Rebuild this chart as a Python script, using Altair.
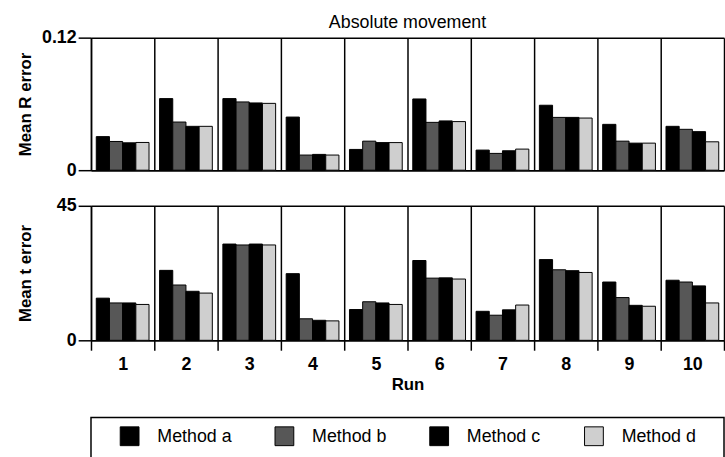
import altair as alt
import pandas as pd

runs = [1, 2, 3, 4, 5, 6, 7, 8, 9, 10]
methods = ["Method a", "Method b", "Method c", "Method d"]

# Mean R error per run, one list per method
r_error_a = [0.0304, 0.0648, 0.0648, 0.0481, 0.0188, 0.0645, 0.0182, 0.0588, 0.0415, 0.0397]
r_error_b = [0.0260, 0.0436, 0.0618, 0.0137, 0.0263, 0.0433, 0.0152, 0.0478, 0.0263, 0.0370]
r_error_c = [0.0248, 0.0397, 0.0609, 0.0143, 0.0250, 0.0446, 0.0176, 0.0478, 0.0245, 0.0349]
r_error_d = [0.0251, 0.0397, 0.0605, 0.0137, 0.0250, 0.0440, 0.0191, 0.0472, 0.0245, 0.0257]

# Mean t error per run, one list per method
t_error_a = [14.1, 23.4, 32.2, 22.3, 10.3, 26.7, 9.7, 27.0, 19.5, 20.1]
t_error_b = [12.5, 18.5, 31.9, 7.2, 12.9, 20.8, 8.4, 23.6, 14.3, 19.5]
t_error_c = [12.5, 16.4, 32.2, 6.7, 12.5, 20.9, 10.2, 23.3, 11.7, 18.2]
t_error_d = [12.0, 15.8, 31.9, 6.5, 12.0, 20.5, 11.8, 22.7, 11.4, 12.5]

method_colors = ["#000000", "#575757", "#000000", "#cfcfcf"]


def long_table(series):
    rows = []
    for m, vals in zip(methods, series):
        for r, v in zip(runs, vals):
            rows.append({"run": r, "method": m, "value": v})
    return pd.DataFrame(rows)


r_df = long_table([r_error_a, r_error_b, r_error_c, r_error_d])
t_df = long_table([t_error_a, t_error_b, t_error_c, t_error_d])
legend_df = pd.DataFrame({"method": methods})

FONT = "Liberation Sans"
color_scale = alt.Scale(domain=methods, range=method_colors)


def panel(df, ytitle, ymax, bottom, height):
    if bottom:
        x_axis = alt.Axis(
            tickBand="extent", grid=True, gridColor="black", gridOpacity=1, gridWidth=1.5,
            domainColor="black", domainWidth=1.5, ticks=True, tickSize=10, tickColor="black",
            tickWidth=1.5, labelAngle=0, labelFontSize=18, labelFontWeight="bold",
            labelColor="black", labelPadding=6, labelFont=FONT,
            title="Run", titleFontSize=17, titleFontWeight="bold", titleColor="black",
            titlePadding=3, titleFont=FONT,
        )
    else:
        x_axis = alt.Axis(
            tickBand="extent", grid=True, gridColor="black", gridOpacity=1, gridWidth=1.5,
            domainColor="black", domainWidth=1.5, ticks=False, labels=False, title=None,
        )
    y_axis = alt.Axis(
        values=[0, ymax], format=".2~f", grid=True, gridColor="black", gridOpacity=1,
        gridWidth=1.5, domainColor="black", domainWidth=1.5, tickSize=13, tickColor="black",
        tickWidth=1.5, labelFontSize=18, labelFontWeight="bold", labelColor="black",
        labelPadding=2, labelFont=FONT, title=ytitle, titleFontSize=17,
        titleFontWeight="bold", titleColor="black", titleFont=FONT, titleX=-57,
    )
    return alt.Chart(df).mark_bar(stroke="black", strokeWidth=1, opacity=1).encode(
        x=alt.X("run:O", scale=alt.Scale(domain=runs, paddingInner=0, paddingOuter=0), axis=x_axis),
        xOffset=alt.XOffset("method:N", scale=alt.Scale(domain=methods, paddingInner=0, paddingOuter=0.4)),
        y=alt.Y("value:Q", scale=alt.Scale(domain=[0, ymax], nice=False, zero=True), axis=y_axis),
        color=alt.Color("method:N", scale=color_scale, legend=None),
    ).properties(width=640, height=height)


top = panel(r_df, "Mean R error", 0.12, False, 134).properties(
    title=alt.TitleParams("Absolute movement", fontSize=18, fontWeight="normal", font=FONT,
                          color="black", anchor="middle", frame="group", offset=-3.5)
)
bottom = panel(t_df, "Mean t error", 45, True, 136)

# Legend panel: one square and one label per method, placed by a point scale
legend_x = alt.X(
    "method:N", scale=alt.Scale(type="point", domain=methods, padding=0.545, align=0.229), axis=None
)
legend_squares = alt.Chart(legend_df).mark_square(
    size=361, stroke="black", strokeWidth=1, opacity=1, filled=True
).encode(
    x=legend_x, y=alt.value(19),
    color=alt.Color("method:N", scale=color_scale, legend=None),
)
legend_labels = alt.Chart(legend_df).mark_text(
    align="left", baseline="middle", dx=28, fontSize=18, font=FONT, color="black"
).encode(x=legend_x, y=alt.value(19.5), text="method:N")
legend_panel = alt.layer(legend_squares, legend_labels).properties(
    width=640, height=45, view=alt.ViewBackground(stroke="black", strokeWidth=1.5)
)

plots = alt.vconcat(top, bottom, spacing=18)
chart = alt.vconcat(plots, legend_panel, spacing=24).configure(
    font=FONT
).configure_view(stroke=None).properties(
    padding={"left": 17, "top": 11.5, "right": 0, "bottom": 0}, background="white"
)

chart.save("out.html", embed_options={"renderer": "svg", "actions": False})
